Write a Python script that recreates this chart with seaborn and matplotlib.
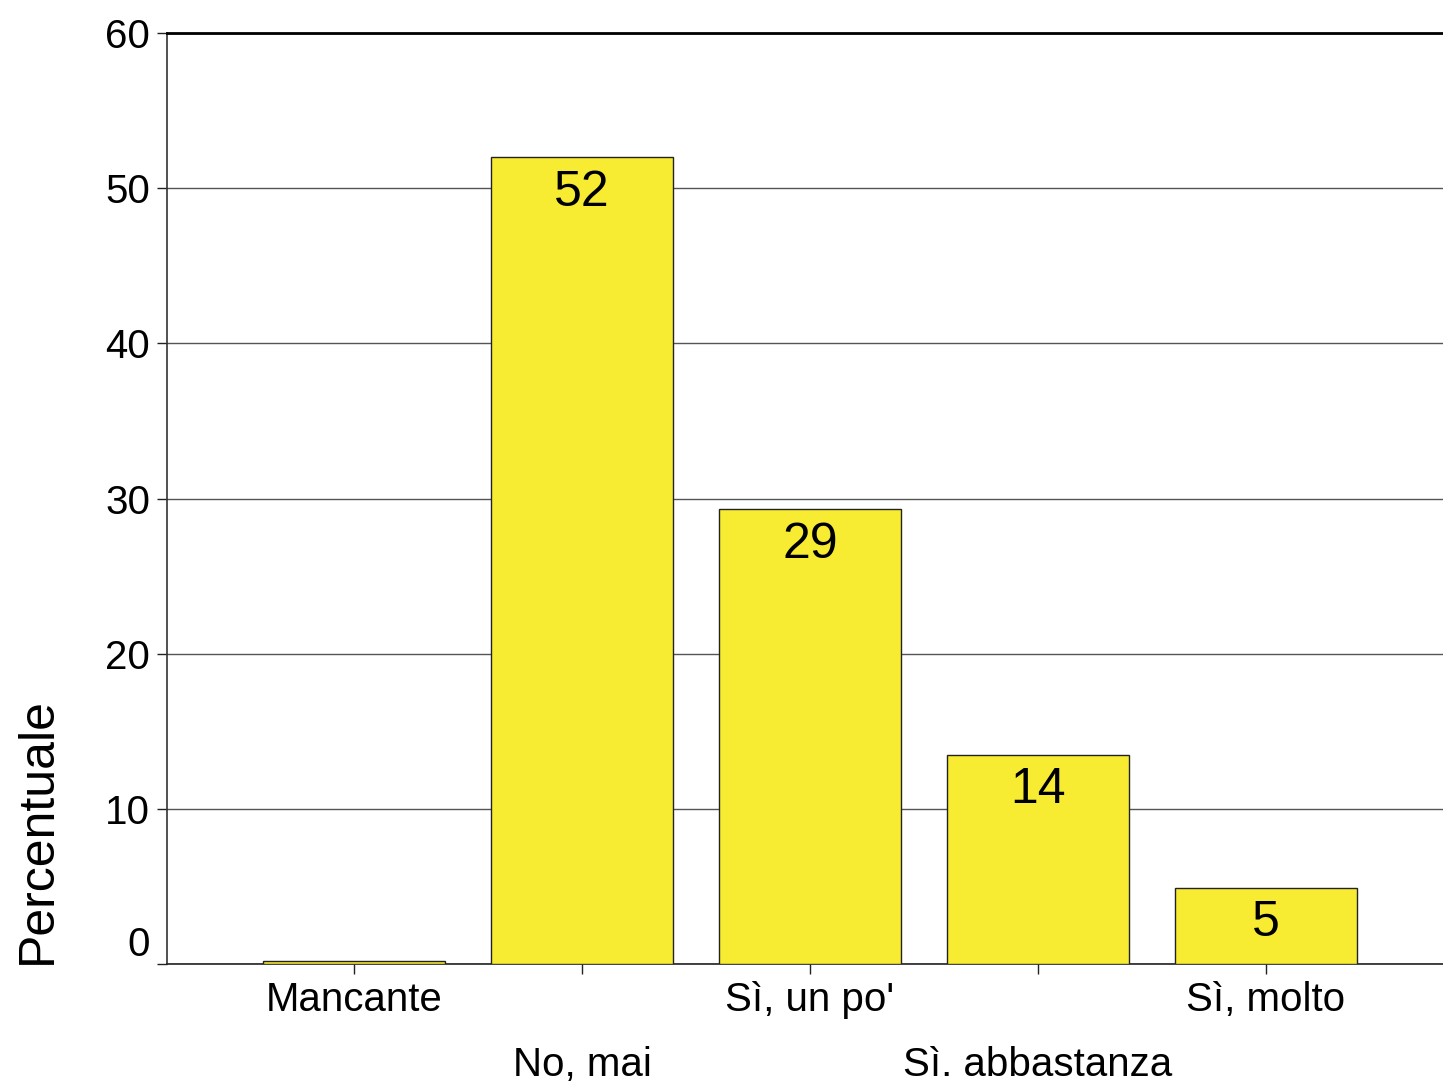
import matplotlib
matplotlib.use("Agg")
import matplotlib.pyplot as plt
import seaborn as sns
import pandas as pd

categories = ["Mancante", "No, mai", "Sì, un po'", "Sì. abbastanza", "Sì, molto"]
values = [0.2, 52.0, 29.3, 13.5, 4.9]
labels = ["", "52", "29", "14", "5"]
yticks = [0, 10, 20, 30, 40, 50, 60]

sns.set_theme(style="white")
plt.rcParams['font.family'] = ['Liberation Sans', 'DejaVu Sans']
plt.rcParams['text.color'] = 'black'
plt.rcParams['xtick.color'] = 'black'
plt.rcParams['ytick.color'] = 'black'
plt.rcParams['axes.labelcolor'] = 'black'

df = pd.DataFrame({"cat": categories, "val": values})

fig = plt.figure(figsize=(14.43, 10.83), dpi=100)
ax = fig.add_axes([167/1443, 119/1083, 1 - 167/1443, (964-33)/1083])

sns.barplot(data=df, x="cat", y="val", ax=ax, color="#F7EC31", saturation=1,
            width=0.8, edgecolor="#222222", linewidth=1.0, zorder=3)

ax.set_xlim(-0.82, 4.776)
ax.set_ylim(0, 60)
ax.set_yticks(yticks)
ax.set_yticklabels([str(t) for t in yticks])
ax.yaxis.grid(True, color="#555555", linewidth=1.0, zorder=0)
ax.set_axisbelow(True)

ax.spines["right"].set_visible(False)
ax.spines["top"].set_color("black")
ax.spines["top"].set_linewidth(2.0)
ax.spines["left"].set_color("#333333")
ax.spines["left"].set_linewidth(1.2)
ax.spines["bottom"].set_color("#222222")
ax.spines["bottom"].set_linewidth(1.2)

ax.tick_params(axis="both", which="both", direction="out", length=7, width=1,
               color="#222222", labelcolor="black", labelsize=29,
               left=True, bottom=True, pad=5)

# zero label lifted above the baseline
ylabs = ax.get_yticklabels()
ylabs[0].set_va("bottom")

# staggered x labels
for i, t in enumerate(ax.xaxis.get_major_ticks()):
    t.set_pad(52 if i % 2 == 1 else 5)

ax.set_xlabel("")
ax.set_ylabel("Percentuale", fontsize=36, loc="bottom", color="black")
ax.yaxis.set_label_coords(-0.083, 0.0)

for i, (v, lab) in enumerate(zip(values, labels)):
    if lab:
        ax.annotate(lab, xy=(i, v), xytext=(0, -9), textcoords="offset points",
                    ha="center", va="top", fontsize=36, color="black", zorder=5)

fig.savefig("out.png", dpi=100)
